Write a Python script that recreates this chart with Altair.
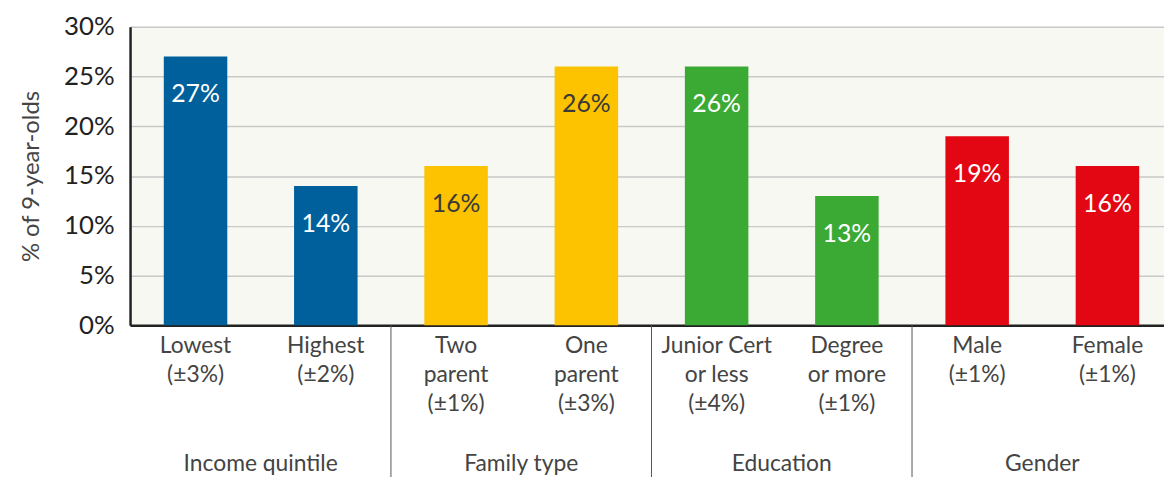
import altair as alt
import pandas as pd

keys = ["Lowest", "Highest", "Two parent", "One parent",
        "Junior Cert or less", "Degree or more", "Male", "Female"]
label_text = ["Lowest\n(±3%)", "Highest\n(±2%)", "Two\nparent\n(±1%)", "One\nparent\n(±3%)",
              "Junior Cert\nor less\n(±4%)", "Degree\nor more\n(±1%)", "Male\n(±1%)", "Female\n(±1%)"]
values = [27, 14, 16, 26, 26, 13, 19, 16]
bar_colors = ["#00609c", "#00609c", "#fdc300", "#fdc300",
              "#3aaa35", "#3aaa35", "#e30613", "#e30613"]
value_label_colors = ["#ffffff", "#ffffff", "#3a3a3a", "#3a3a3a",
                      "#ffffff", "#ffffff", "#ffffff", "#ffffff"]
group_names = ["Income quintile", "Family type", "Education", "Gender"]
group_first = ["Lowest", "Two parent", "Junior Cert or less", "Male"]
separator_at = ["Two parent", "Junior Cert or less", "Male"]

FONT = "Lato"
W, H = 1042, 301
XR = 1051
P_IN, P_OUT = 0.5125, 0.259
STEP = XR / (8 - P_IN + 2 * P_OUT)

df = pd.DataFrame({
    "key": keys,
    "label": label_text,
    "value": values,
    "color": bar_colors,
    "lcolor": value_label_colors,
    "vtext": [f"{v}%" for v in values],
})
groups_df = pd.DataFrame({"key": group_first, "group": group_names})
sep_df = pd.DataFrame({"key": separator_at})

xscale = alt.Scale(domain=keys, paddingInner=P_IN, paddingOuter=P_OUT, range=[0, XR])
x_enc = alt.X("key:N", scale=xscale, sort=keys,
              axis=alt.Axis(labels=False, ticks=False, title=None, grid=False,
                            domainColor="#222222", domainWidth=2.5))

base = alt.Chart(df)

bars = base.mark_bar().encode(
    x=x_enc,
    y=alt.Y("value:Q", scale=alt.Scale(domain=[0, 30], nice=False),
            axis=alt.Axis(values=[0, 5, 10, 15, 20, 25, 30], labelExpr="datum.value + '%'",
                          title="% of 9-year-olds", titleFont=FONT, titleFontSize=24,
                          titleFontWeight="normal", titleColor="#444444", titlePadding=20,
                          labelFont=FONT, labelFontSize=26, labelColor="#222222",
                          labelPadding=16, ticks=False, domainColor="#222222", domainWidth=2.5,
                          gridColor="#c9c9c9", gridWidth=1.5)),
    color=alt.Color("color:N", scale=None),
)

value_labels = base.mark_text(font=FONT, fontSize=25, baseline="middle", dy=38).encode(
    x=alt.X("key:N", scale=xscale, sort=keys),
    y=alt.Y("value:Q"),
    text="vtext:N",
    color=alt.Color("lcolor:N", scale=None),
)

cat_labels = base.mark_text(font=FONT, fontSize=23, baseline="top", lineBreak="\n",
                            lineHeight=29, color="#444444", align="center").encode(
    x=alt.X("key:N", scale=xscale, sort=keys),
    y=alt.value(H + 10),
    text="label:N",
)

group_labels = alt.Chart(groups_df).mark_text(font=FONT, fontSize=23, baseline="middle",
                                              color="#444444", align="center",
                                              xOffset=STEP / 2).encode(
    x=alt.X("key:N", scale=xscale, sort=keys),
    y=alt.value(H + 140),
    text="group:N",
)

seps = alt.Chart(sep_df).mark_rule(color="#555555", strokeWidth=1, xOffset=-STEP / 2).encode(
    x=alt.X("key:N", scale=xscale, sort=keys),
    y=alt.value(H),
    y2=alt.value(H + 170),
)

chart = alt.layer(bars, value_labels, cat_labels, group_labels, seps).properties(
    width=W, height=H,
    autosize=alt.AutoSizeParams(type="none"),
    padding={"left": 123, "top": 17, "right": 0, "bottom": 151},
).configure_view(fill="#f6f8f1", stroke=None).configure_axis(labelFont=FONT)

chart.save("out.html", embed_options={"renderer": "svg", "actions": False})
